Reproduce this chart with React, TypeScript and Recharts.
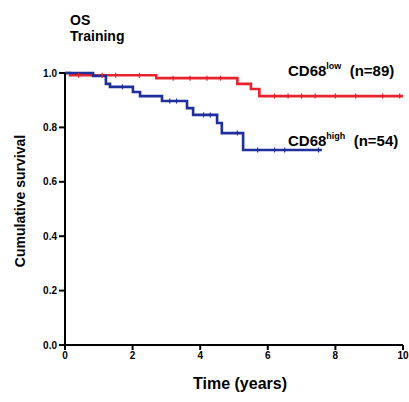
import { CartesianGrid, ComposedChart, Line, Scatter, XAxis, YAxis } from "recharts";

// Kaplan-Meier steps (time in years, cumulative survival)
const lowSteps = [
  { t: 0, s: 1.0 },
  { t: 0.15, s: 0.992 },
  { t: 2.7, s: 0.981 },
  { t: 5.1, s: 0.96 },
  { t: 5.5, s: 0.941 },
  { t: 5.75, s: 0.915 },
  { t: 10, s: 0.915 }
];

const highSteps = [
  { t: 0, s: 1.0 },
  { t: 0.83, s: 0.989 },
  { t: 1.21, s: 0.96 },
  { t: 1.33, s: 0.949 },
  { t: 2.01, s: 0.93 },
  { t: 2.22, s: 0.915 },
  { t: 2.87, s: 0.897 },
  { t: 3.61, s: 0.871 },
  { t: 3.79, s: 0.846 },
  { t: 4.5, s: 0.816 },
  { t: 4.64, s: 0.779 },
  { t: 5.27, s: 0.717 },
  { t: 7.6, s: 0.717 }
];

// censor marks
const lowCensored = [
  { t: 0.4, s: 0.992 }, { t: 1.1, s: 0.992 }, { t: 1.5, s: 0.992 }, { t: 2.2, s: 0.992 },
  { t: 3.2, s: 0.981 }, { t: 3.7, s: 0.981 }, { t: 4.2, s: 0.981 }, { t: 4.6, s: 0.981 },
  { t: 6.2, s: 0.915 }, { t: 6.6, s: 0.915 }, { t: 7.0, s: 0.915 }, { t: 7.4, s: 0.915 },
  { t: 8.0, s: 0.915 }, { t: 8.6, s: 0.915 }, { t: 9.4, s: 0.915 }, { t: 9.9, s: 0.915 }
];
const highCensored = [
  { t: 1.7, s: 0.949 }, { t: 3.1, s: 0.897 }, { t: 3.3, s: 0.897 },
  { t: 4.1, s: 0.846 }, { t: 4.3, s: 0.846 }, { t: 5.1, s: 0.779 },
  { t: 5.7, s: 0.717 }, { t: 6.2, s: 0.717 }, { t: 6.5, s: 0.717 }, { t: 7.5, s: 0.717 }
];

const xTicks = [0, 2, 4, 6, 8, 10];
const yTicks = [0, 0.2, 0.4, 0.6, 0.8, 1.0];

const RED = "#e8232b";
const BLUE = "#1f2f9c";
const font = "'Liberation Sans', Arial, sans-serif";

function Tick({ color }: { color: string }) {
  return (props: any) => {
    const { cx, cy } = props;
    if (cx == null || cy == null) return <g />;
    return <line x1={cx} x2={cx} y1={cy - 2.5} y2={cy + 2.5} stroke={color} strokeWidth={1.2} />;
  };
}

const tickStyle = { fontSize: 10, fontWeight: 700, fill: "#000", fontFamily: font };
const supStyle = { fontSize: 9, verticalAlign: "top", position: "relative" as const, top: -1 };

export default function App() {
  return (
    <div style={{ position: "absolute", left: 0, top: 0, width: 409, height: 402, background: "#fff", fontFamily: font }}>
      <ComposedChart width={409} height={402} margin={{ top: 73, right: 6, bottom: 27, left: 25 }}>
        <CartesianGrid stroke="none" />
        <XAxis
          type="number"
          dataKey="t"
          domain={[0, 10]}
          ticks={xTicks}
          height={30}
          tickSize={5}
          tick={tickStyle}
          stroke="#000"
          strokeWidth={2}
          allowDataOverflow
        />
        <YAxis
          type="number"
          dataKey="s"
          domain={[0, 1]}
          ticks={yTicks}
          width={40}
          tickSize={6}
          tick={tickStyle}
          tickFormatter={(v: number) => v.toFixed(1)}
          stroke="#000"
          strokeWidth={2}
        />
        <Line data={lowSteps} dataKey="s" type="stepAfter" stroke={RED} strokeWidth={2.6} dot={false} isAnimationActive={false} />
        <Line data={highSteps} dataKey="s" type="stepAfter" stroke={BLUE} strokeWidth={2.6} dot={false} isAnimationActive={false} />
        <Scatter data={lowCensored} dataKey="s" shape={Tick({ color: RED })} isAnimationActive={false} />
        <Scatter data={highCensored} dataKey="s" shape={Tick({ color: BLUE })} isAnimationActive={false} />
      </ComposedChart>

      <div style={{ position: "absolute", left: 70, top: 12, fontSize: 14, fontWeight: 700, lineHeight: "16px" }}>
        OS<br />Training
      </div>
      <div style={{ position: "absolute", left: 288, top: 62, fontSize: 15, fontWeight: 700, whiteSpace: "nowrap" }}>
        CD68<span style={supStyle}>low</span>&nbsp;&nbsp;(n=89)
      </div>
      <div style={{ position: "absolute", left: 288, top: 132, fontSize: 15, fontWeight: 700, whiteSpace: "nowrap" }}>
        CD68<span style={supStyle}>high</span>&nbsp;&nbsp;(n=54)
      </div>
      <div style={{ position: "absolute", left: 240, top: 375, transform: "translateX(-50%)", fontSize: 16, fontWeight: 700, whiteSpace: "nowrap" }}>
        Time (years)
      </div>
      <div style={{ position: "absolute", left: 20, top: 201, transform: "translate(-50%, -50%) rotate(-90deg)", fontSize: 14, fontWeight: 700, whiteSpace: "nowrap" }}>
        Cumulative survival
      </div>
    </div>
  );
}
